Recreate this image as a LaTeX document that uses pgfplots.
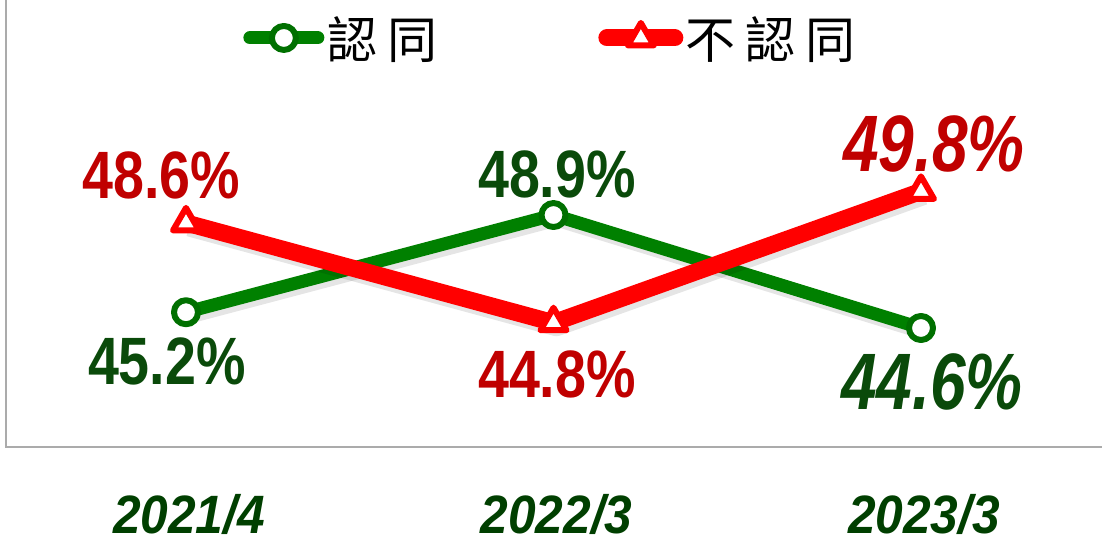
\documentclass[border=0pt]{standalone}
\usepackage{fontspec}
\setmainfont{Liberation Sans}
\newfontfamily\cjk{Noto Sans CJK TC}
\usepackage{graphicx}
\usepackage{pgfplots}
\pgfplotsset{compat=1.18}
\definecolor{lgreen}{HTML}{008000}
\definecolor{mgreen}{HTML}{007000}
\definecolor{tgreen}{HTML}{0A4A0A}
\definecolor{xgreen}{HTML}{003F00}
\definecolor{lred}{HTML}{FF0000}
\definecolor{tred}{HTML}{C00000}
\definecolor{framec}{HTML}{ABABAB}
\newcommand{\lab}[1]{\fontsize{67}{67}\selectfont\bfseries\scalebox{0.83}[1]{#1}}
\newcommand{\biglab}[1]{\fontsize{80}{80}\selectfont\bfseries\itshape\scalebox{0.8}[1]{#1}}
\begin{document}
\begin{tikzpicture}
\useasboundingbox (0,0) rectangle (1102pt,543pt);
\begin{axis}[
  at={(6pt,96pt)}, anchor=south west, scale only axis,
  width=1098pt, height=450pt,
  xmin=-0.4898, xmax=2.498, ymin=40.07, ymax=57.2,
  xtick={0,1,2},
  xticklabels={{\scalebox{0.92}[1]{2021/4}},{\scalebox{0.92}[1]{2022/3}},{\scalebox{0.92}[1]{2023/3}}},
  ytick=\empty, major tick length=0pt,
  xticklabel style={anchor=center, inner sep=0pt, yshift=-67pt, xshift=3pt, text=xgreen, font=\fontsize{54}{54}\selectfont\bfseries\itshape},
  axis line style={framec, line width=2pt},
  clip=false,
  legend columns=2,
  legend style={at={(axis description cs:0.216,0.909)}, anchor=west, draw=none, fill=none,
    font=\fontsize{50}{50}\selectfont\cjk, inner sep=0pt,
    nodes={inner sep=1pt},
    /tikz/every even column/.append style={column sep=160pt}},
  legend image code/.code={%
    \draw[mark repeat=2,mark phase=2,#1,line cap=round] plot coordinates {(0pt,0pt) (34pt,0pt) (68pt,0pt)};%
  },
]
\addplot[forget plot, black, opacity=0.10, line width=15pt, line join=round, xshift=3pt, yshift=-4pt]
  coordinates {(0,45.2) (1,48.9) (2,44.6)};
\addplot[color=lgreen, line width=13pt, line join=round, mark=*, mark size=12pt,
  mark options={fill=white, draw=mgreen, line width=6pt}]
  coordinates {(0,45.2) (1,48.9) (2,44.6)};
\addlegendentry{\hspace{2pt}認\hspace{10pt}同}
\addplot[forget plot, black, opacity=0.10, line width=19pt, line join=round, xshift=3pt, yshift=-4pt]
  coordinates {(0,48.6) (1,44.8) (2,49.8)};
\addplot[color=lred, line width=17pt, line join=round, mark=triangle*, mark size=15pt,
  mark options={fill=white, draw=lred, line width=6pt}]
  coordinates {(0,48.6) (1,44.8) (2,49.8)};
\addlegendentry{\hspace{1pt}不\hspace{10pt}認\hspace{10pt}同}
\node[text=tred] at (axis cs:-0.068,50.42) {\lab{48.6\%}};
\node[text=tgreen] at (axis cs:1.0095,50.46) {\lab{48.9\%}};
\node[text=tred] at (axis cs:2.035,51.62) {\biglab{49.8\%}};
\node[text=tgreen] at (axis cs:-0.052,43.31) {\lab{45.2\%}};
\node[text=tred] at (axis cs:1.0095,42.85) {\lab{44.8\%}};
\node[text=tgreen] at (axis cs:2.03,42.55) {\biglab{44.6\%}};
\end{axis}
\end{tikzpicture}
\end{document}
